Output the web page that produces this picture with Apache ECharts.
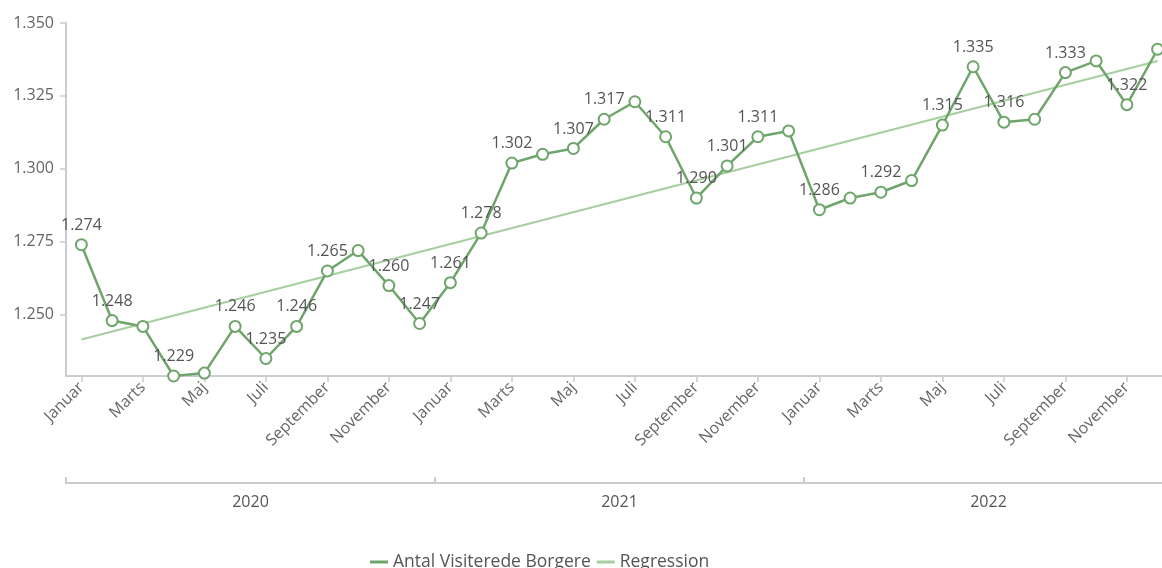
<!DOCTYPE html>
<html>
<head>
<meta charset="utf-8">
<script src="https://cdn.jsdelivr.net/npm/echarts@6/dist/echarts.min.js"></script>
<style>
html,body{margin:0;padding:0;background:#fff;overflow:hidden;}
#chart{width:1173px;height:568px;}
</style>
</head>
<body>
<div id="chart"></div>
<script>
// ---- data ----
const months = ['Januar','Februar','Marts','April','Maj','Juni','Juli','August','September','Oktober','November','December'];
const years = ['2020','2021','2022'];
const visited = [
  1274,1248,1246,1229,1230,1246,1235,1246,1265,1272,1260,1247,
  1261,1278,1302,1305,1307,1317,1323,1311,1290,1301,1311,1313,
  1286,1290,1292,1296,1315,1335,1316,1317,1333,1337,1322,1341
];
const labelShown = [
  1,1,0,1,0,1,1,1,1,0,1,1,
  1,1,1,0,1,1,0,1,1,1,1,0,
  1,0,1,0,1,1,1,0,1,0,1,0
];
// regression line: only the two end values
const regressionStart = 1241.5;
const regressionEnd = 1337;
const yTicks = [1250,1275,1300,1325,1350];
const yMin = 1229, yMax = 1350;

// ---- build ----
const categories = [];
years.forEach(y => months.forEach(m => categories.push(m + ' ' + y)));
const regression = visited.map((v, i) => i === 0 ? regressionStart : (i === visited.length - 1 ? regressionEnd : null));
const fmt = v => Math.floor(v / 1000) + '.' + String(Math.round(v % 1000)).padStart(3, '0');

const mainColor = '#6ea56a';
const regColor = '#a6cf9f';
const axisColor = '#c9cdd1';
const font = '"Open Sans", "Noto Sans", sans-serif';

const chart = echarts.init(document.getElementById('chart'));
chart.setOption({
  animation: false,
  textStyle: {fontFamily: font},
  grid: {left: 66, top: 23, height: 353, right: 0, containLabel: false},
  legend: {
    left: 365, top: 548,
    itemWidth: 18, itemHeight: 3, itemGap: 6,
    icon: 'rect',
    textStyle: {color: '#555', fontSize: 17.5, fontFamily: font},
    data: ['Antal Visiterede Borgere', 'Regression']
  },
  xAxis: [{
    type: 'category',
    data: categories,
    boundaryGap: true,
    axisLine: {lineStyle: {color: axisColor, width: 2}},
    axisTick: {show: true, alignWithLabel: true, interval: 1, length: 6, lineStyle: {color: axisColor, width: 1.5}},
    axisLabel: {
      interval: 1, rotate: 45, color: '#666', fontSize: 16, margin: 9,
      formatter: v => v.split(' ')[0]
    }
  }, {
    type: 'category',
    data: years,
    position: 'bottom',
    offset: 107,
    boundaryGap: true,
    axisLine: {lineStyle: {color: axisColor, width: 2}},
    axisTick: {show: true, inside: true, length: 6, interval: 0, lineStyle: {color: axisColor, width: 2}},
    axisLabel: {color: '#555', fontSize: 16, margin: 11}
  }],
  yAxis: {
    type: 'value',
    min: yMin, max: yMax,
    splitLine: {show: false},
    axisLine: {show: true, lineStyle: {color: axisColor, width: 2}},
    axisTick: {show: true, length: 6, customValues: yTicks, lineStyle: {color: axisColor, width: 1.5}},
    axisLabel: {customValues: yTicks, color: '#666', fontSize: 16, margin: 12, formatter: v => fmt(v)}
  },
  series: [{
    name: 'Antal Visiterede Borgere',
    type: 'line',
    xAxisIndex: 0,
    data: visited.map((v, i) => ({value: v, label: {show: !!labelShown[i]}})),
    symbol: 'emptyCircle',
    symbolSize: 11,
    showAllSymbol: true,
    lineStyle: {color: mainColor, width: 2.5},
    itemStyle: {color: mainColor, borderWidth: 2.3},
    label: {position: 'top', distance: 5, color: '#555', fontSize: 16, formatter: p => fmt(p.value)},
    z: 3
  }, {
    name: 'Regression',
    type: 'line',
    xAxisIndex: 0,
    data: regression,
    connectNulls: true,
    symbol: 'none',
    lineStyle: {color: regColor, width: 2},
    itemStyle: {color: regColor},
    z: 2
  }]
});
</script>
</body>
</html>
